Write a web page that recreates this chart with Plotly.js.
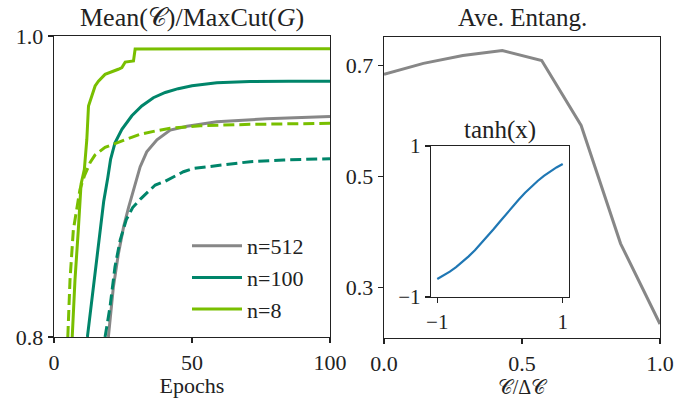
<!DOCTYPE html>
<html>
<head>
<meta charset="utf-8">
<script src="https://cdn.plot.ly/plotly-3.0.1.min.js"></script>
<style>html,body{margin:0;padding:0;background:#fff;}#chart{width:689px;height:398px;}</style>
</head>
<body>
<div id="chart"></div>
<script>
// ---- Left panel: Mean(C)/MaxCut(G) vs epochs ----
const epochs512 = [19.7, 21.5, 23.3, 25.2, 27.0, 28.8, 30.0, 31.2, 33.6, 37.3, 42.1, 48.2, 59, 77, 100];
const mean512   = [0.800, 0.833, 0.855, 0.873, 0.886, 0.897, 0.905, 0.913, 0.923, 0.931, 0.9375, 0.940, 0.943, 0.945, 0.9465];

const epochs100 = [12.1, 14.0, 16.0, 18.0, 19.5, 20.5, 22.1, 24.6, 28.2, 31.8, 36.0, 40.3, 45, 50, 59, 71, 85, 100];
const mean100   = [0.800, 0.830, 0.862, 0.890, 0.906, 0.918, 0.929, 0.938, 0.947, 0.9535, 0.959, 0.9625, 0.965, 0.967, 0.969, 0.9697, 0.970, 0.970];

const epochs100d = [18.5, 20.3, 22.1, 24.0, 26.2, 28.5, 31.5, 36.7, 40.3, 46.9, 50.6, 59, 71.1, 83.2, 100];
const mean100d   = [0.800, 0.820, 0.8467, 0.8645, 0.878, 0.886, 0.892, 0.901, 0.9035, 0.9098, 0.912, 0.9138, 0.9165, 0.9176, 0.9185];

const epochs8 = [6.6, 7.6, 8.8, 9.8, 11.0, 11.9, 12.5, 13.4, 14.9, 16.1, 18.5, 23.3, 24.6, 25.8, 28.8, 29.4, 100];
const mean8   = [0.800, 0.838, 0.871, 0.9015, 0.9114, 0.9314, 0.9535, 0.958, 0.9668, 0.970, 0.9745, 0.9779, 0.979, 0.9827, 0.9834, 0.9914, 0.9916];

const epochs8d = [5.0, 5.8, 7.0, 8.2, 9.4, 11.0, 13.1, 14.9, 18.5, 22.8, 26.4, 31.2, 36.7, 42.1, 53, 71, 100];
const mean8d   = [0.800, 0.838, 0.871, 0.884, 0.898, 0.907, 0.916, 0.921, 0.926, 0.929, 0.9313, 0.9347, 0.9369, 0.9387, 0.9404, 0.9413, 0.942];

const legendNames = ["n=512", "n=100", "n=8"];

// ---- Right panel: average entanglement ----
const ratio   = [0, 1/7, 2/7, 3/7, 4/7, 5/7, 6/7, 1];
const entang  = [0.684, 0.704, 0.718, 0.727, 0.709, 0.592, 0.379, 0.234];

// ---- Inset: tanh(x) ----
const insetX = [-1, -0.9, -0.8, -0.7, -0.6, -0.5, -0.4, -0.3, -0.2, -0.1, 0, 0.1, 0.2, 0.3, 0.4, 0.5, 0.6, 0.7, 0.8, 0.9, 1];
const insetY = [-0.762, -0.716, -0.664, -0.604, -0.537, -0.462, -0.380, -0.291, -0.197, -0.100, 0, 0.100, 0.197, 0.291, 0.380, 0.462, 0.537, 0.604, 0.664, 0.716, 0.762];

const GREY = "#878787", DKGREEN = "#00856a", LTGREEN = "#79bf00";
const FONT = "Liberation Serif, Times New Roman, serif";
const LW = 3;
const DASH = "11px,5px";

const traces = [
  {x: epochs512, y: mean512, mode: "lines", name: legendNames[0], line: {color: GREY, width: LW}, xaxis: "x", yaxis: "y"},
  {x: epochs100, y: mean100, mode: "lines", name: legendNames[1], line: {color: DKGREEN, width: LW}, xaxis: "x", yaxis: "y"},
  {x: epochs8, y: mean8, mode: "lines", name: legendNames[2], line: {color: LTGREEN, width: LW}, xaxis: "x", yaxis: "y"},
  {x: epochs100d, y: mean100d, mode: "lines", showlegend: false, line: {color: DKGREEN, width: LW, dash: DASH}, xaxis: "x", yaxis: "y"},
  {x: epochs8d, y: mean8d, mode: "lines", showlegend: false, line: {color: LTGREEN, width: LW, dash: DASH}, xaxis: "x", yaxis: "y"},
  {x: ratio, y: entang, mode: "lines", showlegend: false, line: {color: GREY, width: LW}, xaxis: "x2", yaxis: "y2"},
  {x: insetX, y: insetY, mode: "lines", showlegend: false, line: {color: "#1f77b4", width: 2.2}, xaxis: "x3", yaxis: "y3"}
];

const axBase = {
  showgrid: false, zeroline: false, showline: true, mirror: true,
  linecolor: "#222", linewidth: 1.3, ticks: "outside", ticklen: 5, tickwidth: 1.3, tickcolor: "#222",
  tickfont: {family: FONT, size: 22, color: "#222"}
};

const layout = {
  width: 689, height: 398,
  margin: {l: 0, r: 0, t: 0, b: 0},
  paper_bgcolor: "#fff", plot_bgcolor: "#fff",
  font: {family: FONT, color: "#222"},
  xaxis: Object.assign({}, axBase, {domain: [54/689, 330/689], range: [0, 100], tickvals: [0, 50, 100], ticktext: ["0", "50", "100"],
    title: {text: "Epochs", font: {family: FONT, size: 22, color: "#222"}, standoff: 2}, anchor: "y"}),
  yaxis: Object.assign({}, axBase, {domain: [1 - 337/398, 1 - 36/398], range: [0.8, 1.0], tickvals: [0.8, 1.0], ticktext: ["0.8", "1.0"], anchor: "x"}),
  xaxis2: Object.assign({}, axBase, {domain: [384/689, 660/689], range: [0, 1], tickvals: [0, 0.5, 1], ticktext: ["0.0", "0.5", "1.0"],
    title: {text: "𝒞/Δ𝒞", font: {family: FONT, size: 20, color: "#222"}, standoff: 8}, anchor: "y2"}),
  yaxis2: Object.assign({}, axBase, {domain: [1 - 338/398, 1 - 37/398], range: [0.2087, 0.7515], tickvals: [0.3, 0.5, 0.7], ticktext: ["0.3", "0.5", "0.7"], anchor: "x2"}),
  xaxis3: Object.assign({}, axBase, {domain: [431/689, 569/689], range: [-1.1, 1.1], tickvals: [-1, 1], ticktext: ["−1", "1"], anchor: "y3",
    tickfont: {family: FONT, size: 21, color: "#222"}}),
  yaxis3: Object.assign({}, axBase, {domain: [1 - 297/398, 1 - 146/398], range: [-1, 1], tickvals: [-1, 1], ticktext: ["−1", "1"], anchor: "x3",
    tickfont: {family: FONT, size: 21, color: "#222"}}),
  showlegend: true,
  legend: {x: 187/689, y: 1 - 225/398, xanchor: "left", yanchor: "top", bgcolor: "rgba(0,0,0,0)", borderwidth: 0,
    font: {family: FONT, size: 22, color: "#222"}, itemwidth: 50},
  annotations: [
    {text: "Mean(𝒞)/MaxCut(<i>G</i>)", xref: "paper", yref: "paper", x: 192/689, y: 1 - 17/398, xanchor: "center", yanchor: "middle", showarrow: false,
      font: {family: FONT, size: 26, color: "#222"}},
    {text: "Ave. Entang.", xref: "paper", yref: "paper", x: 522/689, y: 1 - 17/398, xanchor: "center", yanchor: "middle", showarrow: false,
      font: {family: FONT, size: 25, color: "#222"}},
    {text: "tanh(x)", xref: "paper", yref: "paper", x: 500/689, y: 1 - 130/398, xanchor: "center", yanchor: "middle", showarrow: false,
      font: {family: FONT, size: 25, color: "#222"}}
  ]
};

Plotly.newPlot("chart", traces, layout, {staticPlot: true, displayModeBar: false});
</script>
</body>
</html>
